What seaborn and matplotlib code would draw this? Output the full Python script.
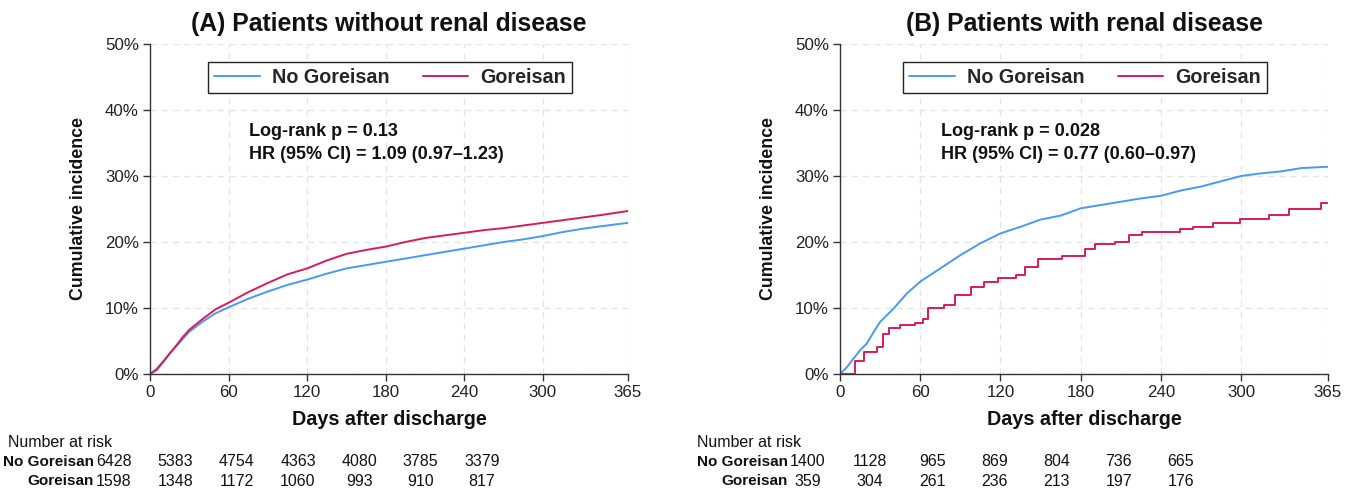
import numpy as np
import pandas as pd
import matplotlib
matplotlib.use("Agg")
import matplotlib.pyplot as plt
import seaborn as sns

# ---------------- data ----------------
days = [0, 5, 10, 15, 20, 25, 30, 40, 50, 60, 75, 90, 105, 120, 135, 150, 165,
        180, 195, 210, 225, 240, 255, 270, 285, 300, 315, 330, 345, 365]
a_no_goreisan = [0, 0.8, 1.9, 3.1, 4.2, 5.3, 6.4, 7.9, 9.2, 10.1, 11.4, 12.5, 13.5,
                 14.3, 15.2, 16.0, 16.5, 17.0, 17.5, 18.0, 18.5, 19.0, 19.5, 20.0,
                 20.4, 20.9, 21.5, 22.0, 22.4, 22.9]
a_goreisan = [0, 0.6, 1.8, 3.1, 4.3, 5.6, 6.7, 8.3, 9.8, 10.8, 12.4, 13.8, 15.1,
              16.0, 17.2, 18.2, 18.8, 19.3, 20.0, 20.6, 21.0, 21.4, 21.8, 22.1,
              22.5, 22.9, 23.3, 23.7, 24.1, 24.7]
b_no_goreisan = [0, 1.0, 2.3, 3.6, 4.6, 6.3, 7.9, 9.9, 12.2, 14.0, 16.0, 18.0, 19.8,
                 21.3, 22.3, 23.4, 24.0, 25.1, 25.6, 26.1, 26.6, 27.0, 27.8, 28.4,
                 29.2, 30.0, 30.4, 30.7, 31.2, 31.4]
b_goreisan_days = [0, 7, 11, 18, 28, 32, 37, 45, 56, 62, 66, 78, 86, 98, 108, 118,
                   132, 138, 148, 166, 183, 191, 206, 216, 226, 254, 264, 279, 299,
                   321, 336, 360, 365]
b_goreisan = [0, 0, 2.0, 3.3, 4.1, 6.1, 6.9, 7.5, 7.7, 8.4, 10.0, 10.4, 12.0, 13.2,
              14.0, 14.6, 15.0, 16.2, 17.5, 17.9, 19.0, 19.7, 20.0, 21.0, 21.5,
              21.9, 22.3, 22.9, 23.5, 24.1, 25.0, 25.9, 25.9]

xticks = [0, 60, 120, 180, 240, 300, 365]
yticks = [0, 10, 20, 30, 40, 50]

risk_a_no = [6428, 5383, 4754, 4363, 4080, 3785, 3379]
risk_a_go = [1598, 1348, 1172, 1060, 993, 910, 817]
risk_b_no = [1400, 1128, 965, 869, 804, 736, 665]
risk_b_go = [359, 304, 261, 236, 213, 197, 176]

titles = ["(A) Patients without renal disease", "(B) Patients with renal disease"]
stats_a = ["Log-rank p = 0.13", "HR (95% CI) = 1.09 (0.97\u20131.23)"]
stats_b = ["Log-rank p = 0.028", "HR (95% CI) = 0.77 (0.60\u20130.97)"]
groups = ["No Goreisan", "Goreisan"]

BLUE = "#4a98f7"
RED = "#d81b5a"

# ---------------- style ----------------
sns.set_theme(style="white")
plt.rcParams["font.family"] = ["Liberation Sans", "DejaVu Sans"]

W, H = 1359, 491
fig = plt.figure(figsize=(W / 100, H / 100), dpi=100)
fig.patch.set_facecolor("white")

axA = fig.add_axes([150 / W, 1 - 374 / H, 478 / W, 330 / H])
axB = fig.add_axes([840 / W, 1 - 374 / H, 488 / W, 330 / H])

dfA = pd.DataFrame({"day": days * 2,
                    "inc": a_no_goreisan + a_goreisan,
                    "group": [groups[0]] * len(days) + [groups[1]] * len(days)})
sns.lineplot(data=dfA, x="day", y="inc", hue="group", palette=[BLUE, RED],
             hue_order=groups, ax=axA, lw=1.4, errorbar=None)

sns.lineplot(x=days, y=b_no_goreisan, ax=axB, color=BLUE, lw=1.4,
             label=groups[0], errorbar=None)
sns.lineplot(x=b_goreisan_days, y=b_goreisan, ax=axB, color=RED, lw=1.4,
             label=groups[1], errorbar=None, drawstyle="steps-post")

for ax, title, stats in [(axA, titles[0], stats_a), (axB, titles[1], stats_b)]:
    ax.set_xlim(0, 365)
    ax.set_ylim(0, 50)
    ax.set_xticks(xticks)
    ax.set_yticks(yticks)
    ax.set_yticklabels([f"{v}%" for v in yticks])
    ax.grid(True, ls=(0, (5, 4)), color="#e3e3e3", lw=0.9)
    ax.set_axisbelow(True)
    for s in ["top", "right"]:
        ax.spines[s].set_visible(False)
    for s in ["left", "bottom"]:
        ax.spines[s].set_color("#333333")
        ax.spines[s].set_linewidth(1.0)
    ax.tick_params(axis="both", direction="out", length=5, width=1.0,
                   color="#333333", labelsize=12.2, labelcolor="#222222", pad=3,
                   left=True, bottom=True)
    ax.set_xlabel("Days after discharge", fontsize=14.2, fontweight="bold",
                  labelpad=7, color="#111111")
    ax.set_ylabel("Cumulative incidence", fontsize=12.8, fontweight="bold",
                  labelpad=13, color="#111111")
    ax.set_title(title, fontsize=17.8, fontweight="bold", pad=9, color="#111111")
    ax.text(0.207, 0.736, stats[0], transform=ax.transAxes, va="center",
            ha="left", fontsize=13, fontweight="bold", color="#111111")
    ax.text(0.207, 0.664, stats[1], transform=ax.transAxes, va="center",
            ha="left", fontsize=13, fontweight="bold", color="#111111")
    leg = ax.legend(loc="upper center", bbox_to_anchor=(0.502, 0.976), ncol=2,
                    frameon=True, fancybox=False, edgecolor="#222222",
                    framealpha=1, prop={"weight": "bold", "size": 14.2},
                    handlelength=2.3, handletextpad=0.6, columnspacing=1.7,
                    borderpad=0.3, title=None)
    leg.get_frame().set_linewidth(1.0)

# ---------------- risk tables ----------------
def risk_table(left_px, step_px, rows, label_x, nar_x):
    x0 = left_px - step_px / 2
    tab = fig.add_axes([x0 / W, 1 - 491 / H, 7 * step_px / W, 39 / H])
    tab.set_xlim(-0.5, 6.5)
    tab.set_ylim(1.5, -0.5)
    tab.axis("off")
    tab.text(nar_x, -1.0, "Number at risk", ha="left", va="center",
             fontsize=11.5, color="#111111", clip_on=False)
    for r, (name, vals) in enumerate(rows):
        tab.text(label_x, r, name, ha="right", va="center", fontsize=11.0,
                 fontweight="bold", color="#111111", clip_on=False)
        for i, v in enumerate(vals):
            tab.text(i, r, str(v), ha="center", va="center", fontsize=11.5,
                     color="#111111", clip_on=False)

risk_table(114, 61.33, [(groups[0], risk_a_no), (groups[1], risk_a_go)],
           label_x=-0.33, nar_x=-1.73)
risk_table(808, 62.17, [(groups[0], risk_b_no), (groups[1], risk_b_go)],
           label_x=-0.32, nar_x=-1.785)

fig.savefig("out.png", dpi=100, facecolor="white")
